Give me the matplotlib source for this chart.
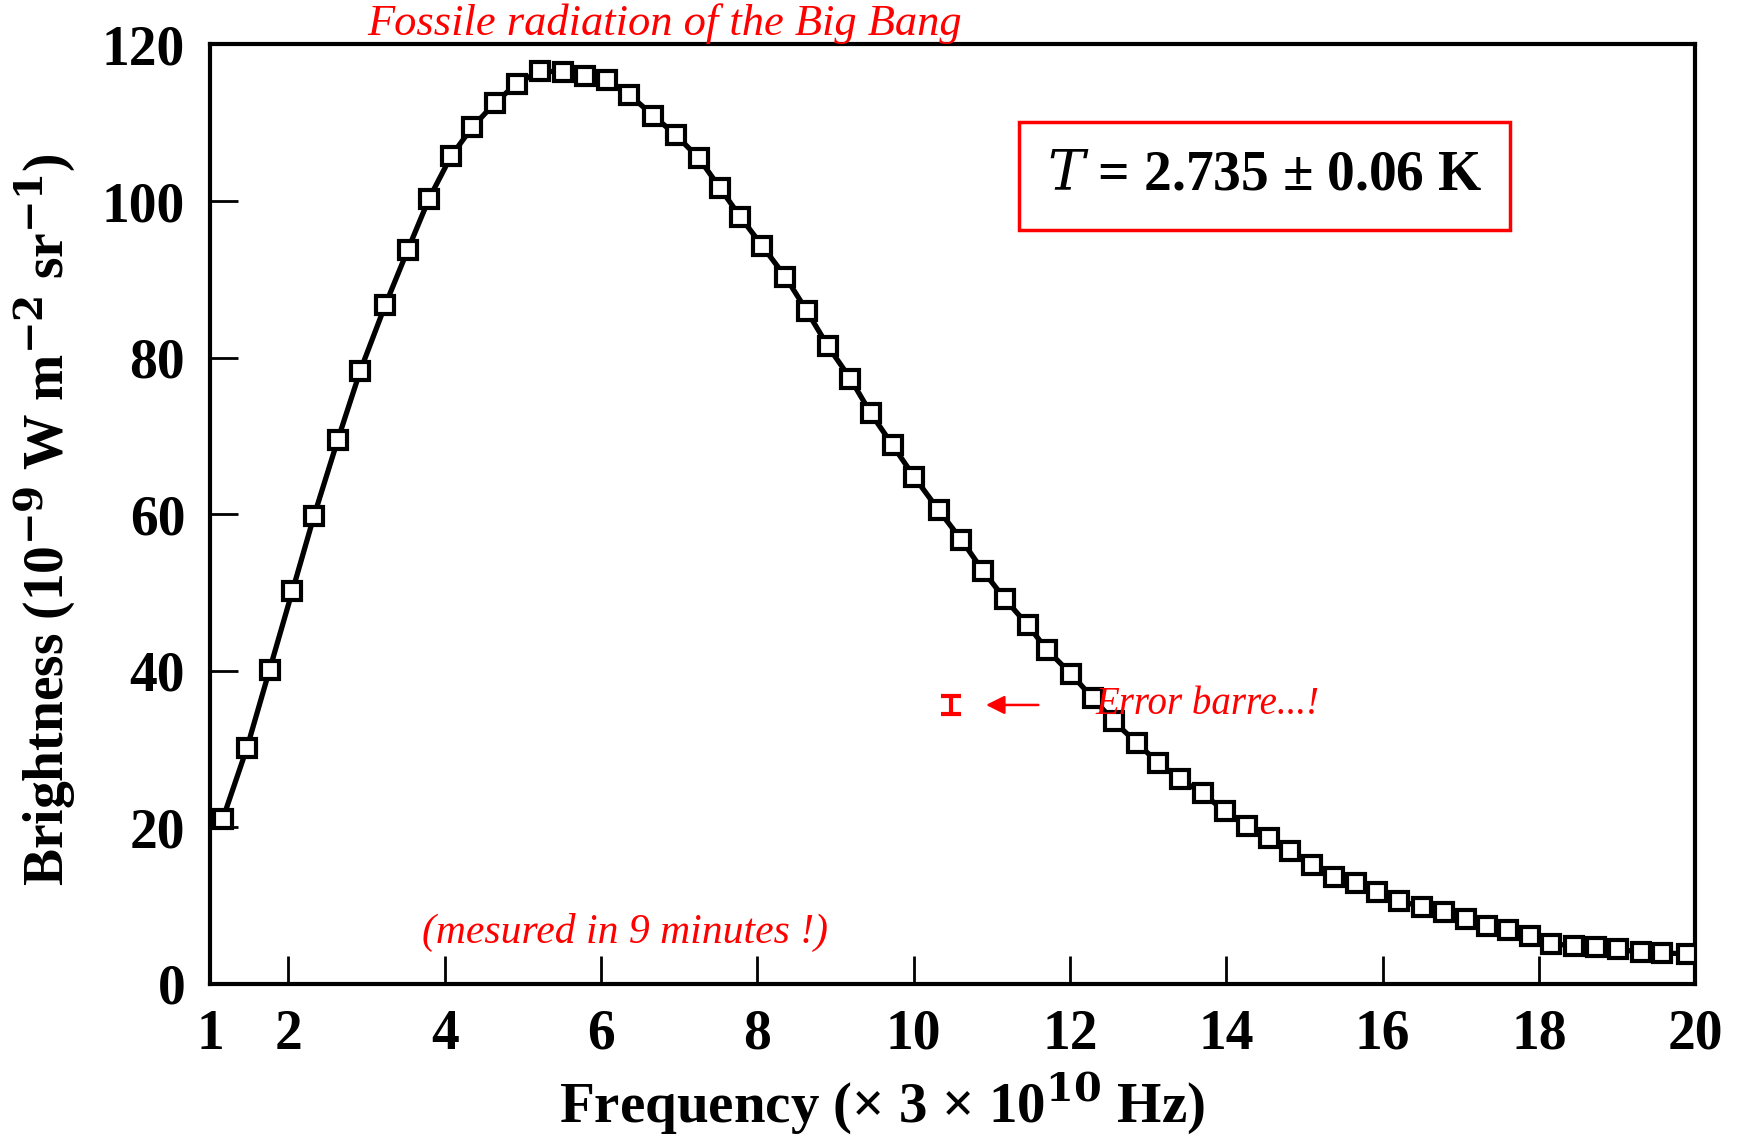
import matplotlib
matplotlib.use("Agg")
import matplotlib.pyplot as plt

plt.rcParams["mathtext.fontset"] = "dejavuserif"

# Data (frequency in units of 3e10 Hz, brightness in 1e-9 W m^-2 sr^-1)
frequency = [1.16, 1.47, 1.76, 2.05, 2.33, 2.63, 2.92, 3.24, 3.53, 3.80,
             4.08, 4.35, 4.64, 4.92, 5.22, 5.51, 5.80, 6.08, 6.36, 6.67,
             6.96, 7.25, 7.52, 7.78, 8.06, 8.36, 8.63, 8.90, 9.19, 9.45,
             9.73, 10.01, 10.32, 10.61, 10.89, 11.17, 11.46, 11.71, 12.01, 12.29,
             12.56, 12.86, 13.13, 13.41, 13.70, 13.98, 14.26, 14.55, 14.81, 15.09,
             15.38, 15.66, 15.93, 16.21, 16.50, 16.78, 17.06, 17.34, 17.60, 17.88,
             18.16, 18.45, 18.73, 19.01, 19.30, 19.58, 19.89]
brightness = [21.0, 30.1, 40.1, 50.1, 59.8, 69.4, 78.3, 86.7, 93.8, 100.3,
              105.7, 109.4, 112.5, 115.0, 116.6, 116.5, 116.0, 115.4, 113.6, 110.9,
              108.4, 105.5, 101.7, 98.0, 94.3, 90.3, 86.0, 81.5, 77.3, 72.9,
              68.8, 64.7, 60.5, 56.7, 52.7, 49.1, 45.8, 42.6, 39.6, 36.5,
              33.5, 30.7, 28.2, 26.1, 24.3, 22.0, 20.1, 18.6, 16.9, 15.2,
              13.6, 12.8, 11.7, 10.6, 9.8, 9.1, 8.3, 7.4, 6.8, 6.1,
              5.1, 4.8, 4.7, 4.4, 4.0, 3.9, 3.8]

x_ticks = [1, 2, 4, 6, 8, 10, 12, 14, 16, 18, 20]
y_ticks = [0, 20, 40, 60, 80, 100, 120]

errbar_x = [10.48]
errbar_y = [35.6]
errbar_err = [1.1]

title_text = "Fossile radiation of the Big Bang"
temp_text = r"$\mathit{T}$ = 2.735 ± 0.06 K"
error_text = "Error barre...!"
note_text = "(mesured in 9 minutes !)"
x_label = r"Frequency (× 3 × 10$^{\mathbf{10}}$ Hz)"
y_label = r"Brightness (10$^{\mathbf{-9}}$ W m$^{\mathbf{-2}}$ sr$^{\mathbf{-1}}$)"

W, H = 1737, 1141
fig = plt.figure(figsize=(W / 100, H / 100), dpi=100)
fig.patch.set_facecolor("white")
ax = fig.add_axes([0.121, 0.138, 0.855, 0.823])

ax.plot(frequency, brightness, color="black", lw=3.8, marker="s", ms=13,
        mfc="white", mec="black", mew=3.0, zorder=3)

ax.set_xlim(1, 20)
ax.set_ylim(0, 120)
ax.set_xticks(x_ticks)
ax.set_yticks(y_ticks)

serif = ["Liberation Serif", "DejaVu Serif"]
for sp in ax.spines.values():
    sp.set_linewidth(3.0)
ax.tick_params(direction="in", length=20, width=2.0, pad=18, colors="black")
for lab in ax.get_xticklabels() + ax.get_yticklabels():
    lab.set_fontfamily(serif)
    lab.set_fontweight("bold")
    lab.set_fontsize(40)

fig.text(0.508, 1 - 1103 / H, x_label, fontsize=41, fontweight="bold",
         family=serif, ha="center", va="center")
fig.text(0.026, 0.545, y_label, fontsize=40, fontweight="bold",
         family=serif, ha="center", va="center", rotation=90)

# Annotations
fig.text(665 / W, 1 - 24 / H, title_text, color="red", fontsize=32,
         style="italic", family=serif, ha="center", va="center")

ax.text(0.71, 0.86, temp_text, transform=ax.transAxes, fontsize=40,
        fontweight="bold", family=serif, ha="center", va="center",
        bbox=dict(boxstyle="square,pad=0.5", fc="white", ec="red", lw=2.5))

ax.errorbar(errbar_x, errbar_y, yerr=errbar_err, fmt="none", ecolor="red",
            elinewidth=3, capsize=7, capthick=3, zorder=4)
ax.annotate("", xy=(10.89, 35.6), xytext=(11.63, 35.6),
            arrowprops=dict(arrowstyle="-|>", color="red", lw=1.8,
                            mutation_scale=28))
ax.text(12.33, 35.6, error_text, color="red", fontsize=28, style="italic",
        family=serif, ha="left", va="center", zorder=5)
ax.text(6.31, 6.5, note_text, color="red", fontsize=30, style="italic",
        family=serif, ha="center", va="center")

fig.savefig("out.png", dpi=100, facecolor="white")
